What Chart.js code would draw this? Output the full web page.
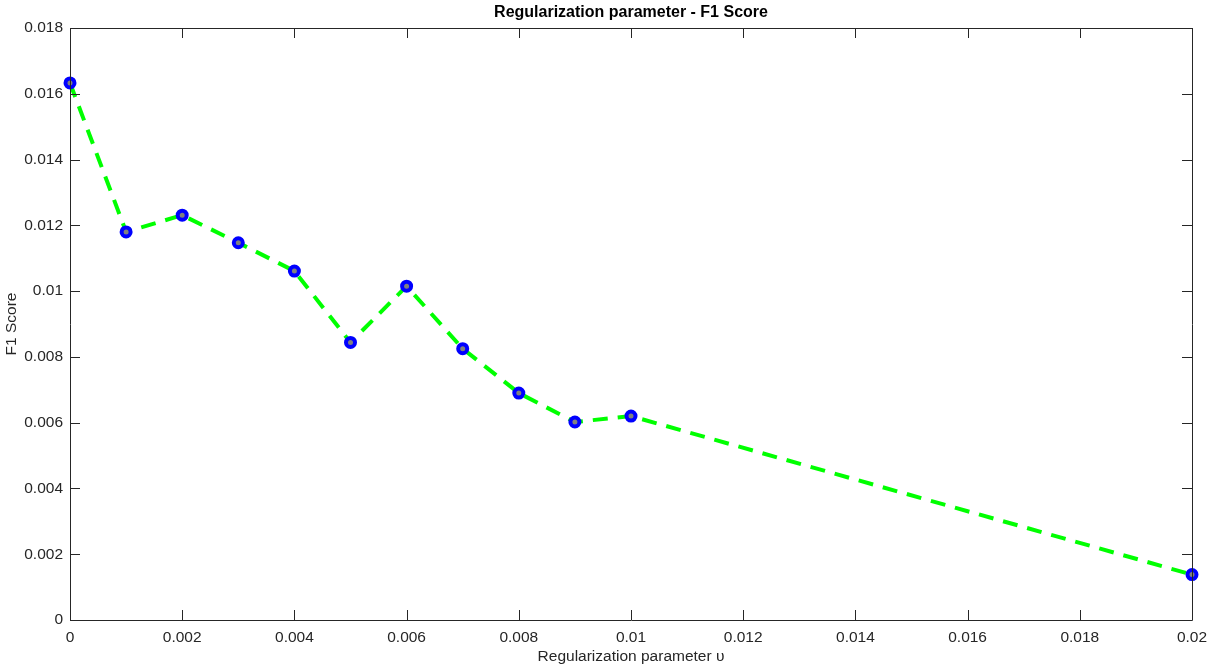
<!DOCTYPE html>
<html>
<head>
<meta charset="utf-8">
<script src="https://cdn.jsdelivr.net/npm/chart.js@4.4.0/dist/chart.umd.min.js"></script>
<style>
html,body{margin:0;padding:0;background:#fff;}
#wrap{width:1207px;height:668px;}
</style>
</head>
<body>
<div id="wrap"><canvas id="c" width="1207" height="668"></canvas></div>
<script>
const regParams = [0, 0.001, 0.002, 0.003, 0.004, 0.005, 0.006, 0.007, 0.008, 0.009, 0.01, 0.02];
const f1Scores  = [0.01633, 0.01180, 0.01231, 0.01147, 0.01061, 0.00844, 0.01015, 0.00825, 0.00690, 0.00602, 0.00620, 0.00138];
const xTicks = [0, 0.002, 0.004, 0.006, 0.008, 0.01, 0.012, 0.014, 0.016, 0.018, 0.02];
const yTicks = [0, 0.002, 0.004, 0.006, 0.008, 0.01, 0.012, 0.014, 0.016, 0.018];

const TXT = '#262626';
const FONT = '"Liberation Sans", Arial, Helvetica, sans-serif';

const fmt = v => String(Number(v.toFixed(4)));

const boxPlugin = {
  id: 'box',
  afterDraw(chart) {
    const {ctx, chartArea: a, scales} = chart;
    ctx.save();
    ctx.strokeStyle = TXT;
    ctx.lineWidth = 1;
    ctx.beginPath();
    ctx.rect(Math.round(a.left) + 0.5, Math.round(a.top) + 0.5, Math.round(a.right - a.left), Math.round(a.bottom - a.top));
    ctx.stroke();
    const L = 10;
    ctx.beginPath();
    xTicks.forEach(v => {
      const x = Math.round(scales.x.getPixelForValue(v)) + 0.5;
      ctx.moveTo(x, a.bottom); ctx.lineTo(x, a.bottom - L);
      ctx.moveTo(x, a.top); ctx.lineTo(x, a.top + L);
    });
    yTicks.forEach(v => {
      const y = Math.round(scales.y.getPixelForValue(v)) + 0.5;
      ctx.moveTo(a.left, y); ctx.lineTo(a.left + L, y);
      ctx.moveTo(a.right, y); ctx.lineTo(a.right - L, y);
    });
    ctx.stroke();
    ctx.restore();
  }
};

new Chart(document.getElementById('c'), {
  type: 'scatter',
  data: {
    datasets: [{
      data: regParams.map((x, i) => ({x: x, y: f1Scores[i]})),
      showLine: true,
      borderColor: '#00ff00',
      borderWidth: 4,
      borderDash: [15, 10],
      pointRadius: 4.5,
      pointBorderWidth: 4,
      pointBorderColor: '#0000ff',
      pointBackgroundColor: '#808080',
      clip: false,
      tension: 0
    }]
  },
  options: {
    responsive: false,
    animation: false,
    devicePixelRatio: 1,
    layout: {padding: {top: 0, right: 15, left: 0, bottom: 0}},
    plugins: {
      legend: {display: false},
      tooltip: {enabled: false},
      title: {
        display: true,
        fullSize: false,
        text: 'Regularization parameter - F1 Score',
        color: '#000',
        font: {family: FONT, size: 16, weight: 'bold'},
        padding: {top: 3, bottom: 5.8}
      }
    },
    scales: {
      x: {
        type: 'linear',
        min: 0, max: 0.02,
        afterBuildTicks: s => { s.ticks = xTicks.map(v => ({value: v})); },
        afterFit: s => { s.height = 48; s.paddingLeft = 0; s.paddingRight = 0; },
        grid: {display: false, drawTicks: false},
        border: {display: false},
        ticks: {color: TXT, font: {family: FONT, size: 15.5}, padding: 8, maxRotation: 0, callback: v => fmt(v)},
        title: {display: true, text: 'Regularization parameter υ', color: TXT, font: {family: FONT, size: 15.5}, padding: {top: 0, bottom: 2}}
      },
      y: {
        type: 'linear',
        min: 0, max: 0.018,
        afterBuildTicks: s => { s.ticks = yTicks.map(v => ({value: v})); },
        afterFit: s => { s.width = 70; s.paddingTop = 0; s.paddingBottom = 0; },
        grid: {display: false, drawTicks: false},
        border: {display: false},
        ticks: {color: TXT, font: {family: FONT, size: 15.5}, padding: 7, callback: v => fmt(v)},
        title: {display: true, text: 'F1 Score', color: TXT, font: {family: FONT, size: 15.5}, padding: {top: 2, bottom: 0}}
      }
    }
  },
  plugins: [boxPlugin]
});
</script>
</body>
</html>
